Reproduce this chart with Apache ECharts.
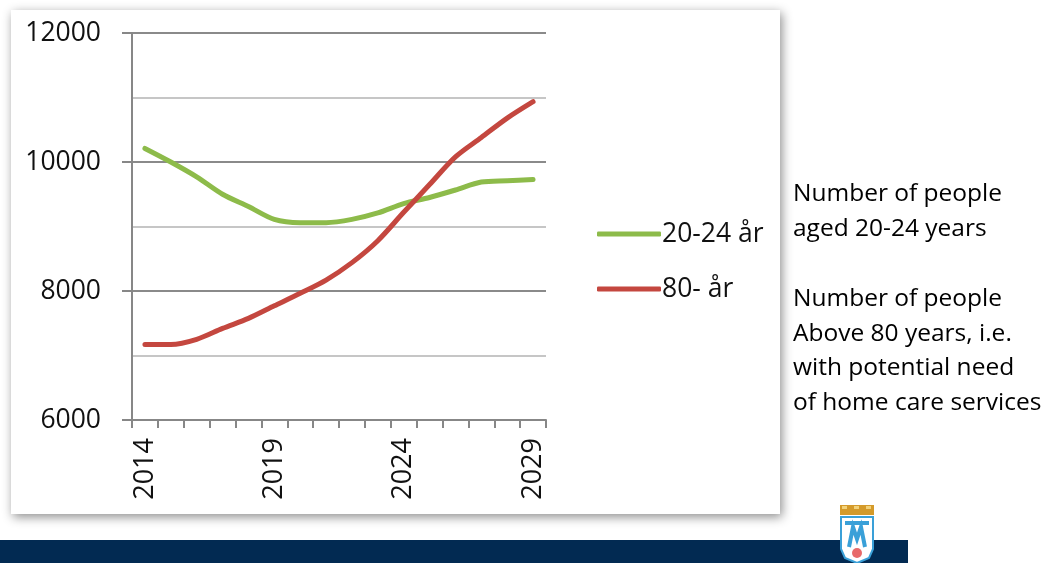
<!DOCTYPE html>
<html>
<head>
<meta charset="utf-8">
<script src="https://cdn.jsdelivr.net/npm/echarts@6/dist/echarts.min.js"></script>
<style>
html,body{margin:0;padding:0;background:#fff;}
#c{width:1055px;height:563px;}
</style>
</head>
<body>
<div id="c"></div>
<script>
const years = ['2014','2015','2016','2017','2018','2019','2020','2021','2022','2023','2024','2025','2026','2027','2028','2029'];
const age2024 = [10210, 10000, 9770, 9500, 9310, 9110, 9060, 9060, 9110, 9210, 9355, 9450, 9566, 9690, 9710, 9730];
const age80 = [7170, 7170, 7250, 7420, 7575, 7770, 7965, 8170, 8440, 8780, 9220, 9650, 10080, 10380, 10680, 10935];
const seriesNames = ['20-24 år', '80- år'];
const noteLines = ['Number of people', 'aged 20-24 years', '', 'Number of people', 'Above 80 years, i.e.', 'with potential need', 'of home care services'];

const FONT = 'Open Sans';
const chart = echarts.init(document.getElementById('c'), null, {renderer: 'canvas'});

const noteGraphics = noteLines.map((t, i) => ({
  type: 'text', left: 793, top: 182 + i * 34.8,
  style: {text: t, fontFamily: FONT, fontSize: 24.5, fill: '#000'}
}));

chart.setOption({
  animation: false,
  grid: {left: 132, right: 509, top: 33, bottom: 143, containLabel: false},
  legend: {
    orient: 'vertical', left: 592, top: 211,
    itemWidth: 64, itemHeight: 5, itemGap: 19, icon: 'roundRect',
    textStyle: {fontFamily: FONT, fontSize: 26.5, color: '#111', lineHeight: 36, padding: [0, 0, 0, -4]},
    data: seriesNames
  },
  xAxis: {
    type: 'category', data: years, boundaryGap: true,
    axisLine: {lineStyle: {color: '#878787', width: 2}},
    axisTick: {show: true, interval: 0, length: 8, lineStyle: {color: '#878787', width: 2}},
    axisLabel: {interval: 4, rotate: 90, fontFamily: FONT, fontSize: 27, color: '#111', margin: 18}
  },
  yAxis: [{
    type: 'value', min: 6000, max: 12000, interval: 1000,
    axisLine: {show: true, lineStyle: {color: '#878787', width: 2}},
    axisTick: {show: false},
    axisLabel: {fontFamily: FONT, fontSize: 26.5, color: '#111', margin: 31,
      formatter: v => (v % 2000 === 0 ? String(v) : '')},
    splitLine: {show: true, lineStyle: {color: ['#8a8a8a', '#c6c6c6'], width: 2}}
  }, {
    type: 'value', min: 6000, max: 12000, interval: 2000, position: 'left',
    axisLine: {show: false},
    axisTick: {show: true, length: 10, lineStyle: {color: '#878787', width: 2}},
    axisLabel: {show: false},
    splitLine: {show: false}
  }],
  series: [{
    name: seriesNames[0], type: 'line', data: age2024, smooth: 0.3,
    symbol: 'none', lineStyle: {width: 5, color: '#8dbb4a', cap: 'round'},
    itemStyle: {color: '#8dbb4a'}
  }, {
    name: seriesNames[1], type: 'line', data: age80, smooth: 0.3,
    symbol: 'none', lineStyle: {width: 5, color: '#c4473f', cap: 'round'},
    itemStyle: {color: '#c4473f'}
  }],
  graphic: [
    {type: 'rect', z: -10, shape: {x: 11, y: 10, width: 769, height: 504},
      style: {fill: '#fff', shadowBlur: 10, shadowColor: 'rgba(0,0,0,0.45)', shadowOffsetX: 2, shadowOffsetY: 3}},
    {type: 'rect', z: -10, shape: {x: 0, y: 540, width: 908, height: 23}, style: {fill: '#022a52'}},
    // logo
    {type: 'rect', shape: {x: 840, y: 505, width: 34, height: 10}, style: {fill: '#d49a2a'}},
    {type: 'rect', shape: {x: 842, y: 506, width: 5, height: 3}, style: {fill: '#f2d27a'}},
    {type: 'rect', shape: {x: 854, y: 506, width: 5, height: 3}, style: {fill: '#f2d27a'}},
    {type: 'rect', shape: {x: 866, y: 506, width: 5, height: 3}, style: {fill: '#f2d27a'}},
    {type: 'polygon', shape: {points: [[841, 517], [873, 517], [873, 549], [869, 558], [857, 563], [845, 558], [841, 549]]},
      style: {fill: '#fff', stroke: '#3aa0d8', lineWidth: 2}},
    {type: 'line', shape: {x1: 845, y1: 523, x2: 869, y2: 523}, style: {stroke: '#3aa0d8', lineWidth: 4}},
    {type: 'polyline', shape: {points: [[849, 547], [853, 527], [857, 539], [861, 527], [865, 547]]},
      style: {stroke: '#3aa0d8', lineWidth: 4}},
    {type: 'circle', shape: {cx: 857, cy: 553, r: 5}, style: {fill: '#e86a6a'}}
  ].concat(noteGraphics)
});
</script>
</body>
</html>
